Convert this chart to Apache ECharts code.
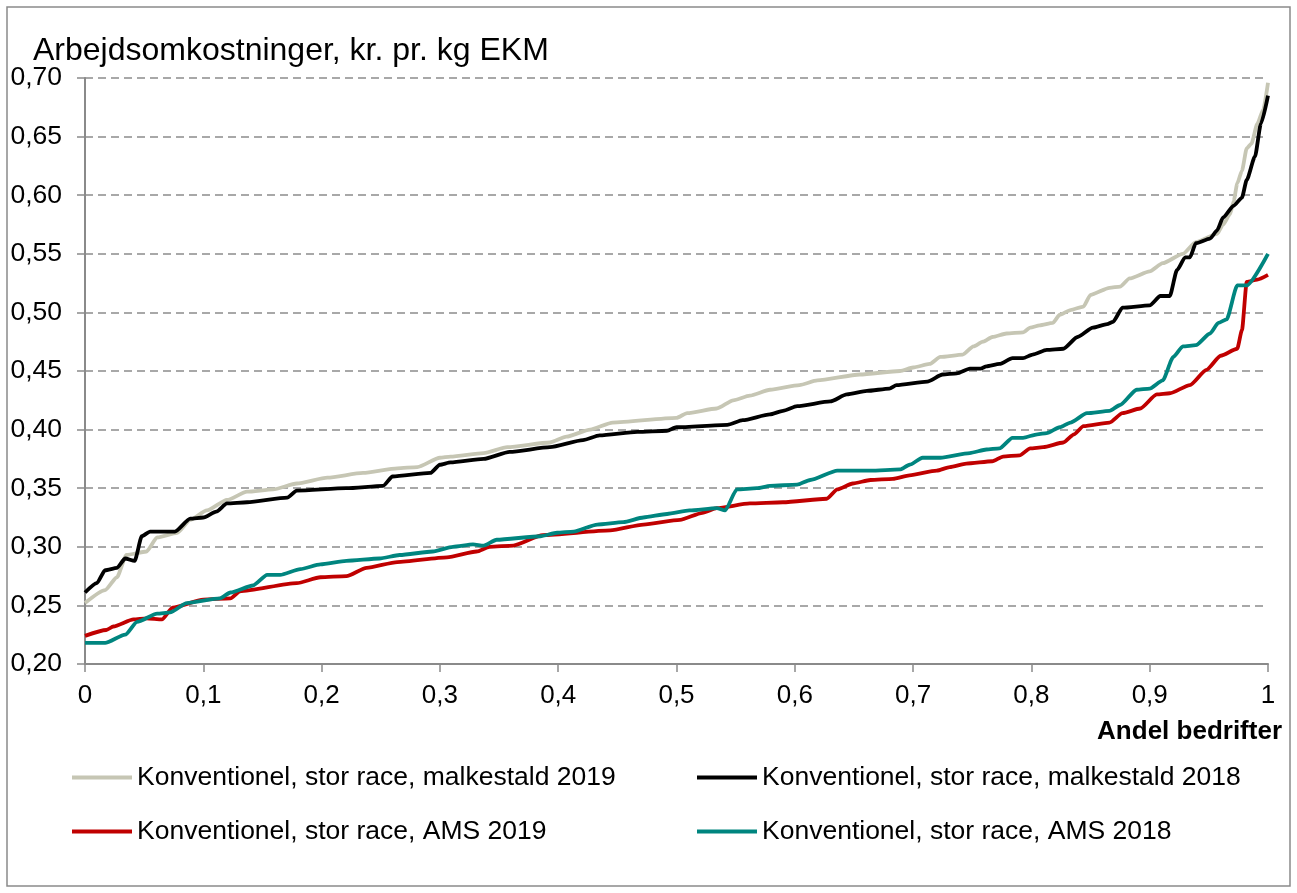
<!DOCTYPE html>
<html>
<head>
<meta charset="utf-8">
<script src="https://cdn.jsdelivr.net/npm/echarts@6/dist/echarts.min.js"></script>
<style>
  html, body { margin: 0; padding: 0; background: #fff; }
  #chart { width: 1297px; height: 893px; }
</style>
</head>
<body>
<div id="chart"></div>
<script>
// tick labels
var xTickLabels = ['0', '0,1', '0,2', '0,3', '0,4', '0,5', '0,6', '0,7', '0,8', '0,9', '1'];
var yTickLabels = ['0,20', '0,25', '0,30', '0,35', '0,40', '0,45', '0,50', '0,55', '0,60', '0,65', '0,70'];

var seriesNames = [
  'Konventionel, stor race, malkestald 2019',
  'Konventionel, stor race, malkestald 2018',
  'Konventionel, stor race, AMS 2019',
  'Konventionel, stor race, AMS 2018'
];

// malkestald 2019 (grå)
var malk2019X = [0, 0.017, 0.027, 0.035, 0.052, 0.061, 0.078, 0.089, 0.103, 0.12, 0.137, 0.159, 0.179, 0.205, 0.235, 0.264, 0.281, 0.3, 0.309, 0.337, 0.357, 0.393, 0.407, 0.427, 0.446, 0.5, 0.509, 0.534, 0.548, 0.562, 0.579, 0.604, 0.619, 0.655, 0.689, 0.7, 0.714, 0.723, 0.742, 0.751, 0.759, 0.767, 0.779, 0.793, 0.799, 0.807, 0.818, 0.824, 0.833, 0.844, 0.85, 0.866, 0.875, 0.883, 0.9, 0.911, 0.928, 0.939, 0.957, 0.962, 0.968, 0.971, 0.974, 0.978, 0.982, 0.986, 0.991, 0.996, 1];
var malk2019Y = [0.252, 0.263, 0.274, 0.293, 0.296, 0.308, 0.312, 0.323, 0.331, 0.340, 0.347, 0.349, 0.354, 0.359, 0.363, 0.367, 0.368, 0.376, 0.377, 0.380, 0.385, 0.389, 0.394, 0.400, 0.406, 0.410, 0.414, 0.418, 0.425, 0.429, 0.434, 0.438, 0.442, 0.447, 0.450, 0.453, 0.456, 0.462, 0.464, 0.471, 0.475, 0.479, 0.482, 0.483, 0.487, 0.489, 0.491, 0.498, 0.502, 0.505, 0.515, 0.521, 0.522, 0.529, 0.535, 0.542, 0.550, 0.560, 0.567, 0.575, 0.584, 0.595, 0.610, 0.621, 0.640, 0.644, 0.661, 0.673, 0.696];

// malkestald 2018 (sort)
var malk2018X = [0, 0.01, 0.017, 0.027, 0.034, 0.042, 0.048, 0.055, 0.076, 0.089, 0.1, 0.111, 0.12, 0.137, 0.171, 0.179, 0.221, 0.252, 0.26, 0.292, 0.3, 0.309, 0.337, 0.359, 0.393, 0.421, 0.435, 0.467, 0.492, 0.5, 0.543, 0.556, 0.579, 0.59, 0.602, 0.63, 0.644, 0.661, 0.68, 0.686, 0.712, 0.725, 0.737, 0.748, 0.757, 0.762, 0.773, 0.784, 0.793, 0.801, 0.813, 0.827, 0.839, 0.852, 0.864, 0.869, 0.877, 0.9, 0.909, 0.917, 0.923, 0.93, 0.934, 0.939, 0.951, 0.957, 0.962, 0.971, 0.978, 0.982, 0.989, 0.994, 1];
var malk2018Y = [0.261, 0.269, 0.280, 0.282, 0.290, 0.288, 0.309, 0.313, 0.313, 0.324, 0.325, 0.330, 0.337, 0.338, 0.342, 0.348, 0.350, 0.352, 0.360, 0.363, 0.370, 0.372, 0.375, 0.381, 0.385, 0.391, 0.395, 0.398, 0.399, 0.402, 0.404, 0.408, 0.413, 0.416, 0.420, 0.424, 0.430, 0.433, 0.435, 0.438, 0.441, 0.447, 0.448, 0.452, 0.452, 0.454, 0.456, 0.461, 0.461, 0.464, 0.468, 0.469, 0.479, 0.487, 0.490, 0.492, 0.504, 0.506, 0.514, 0.514, 0.536, 0.547, 0.547, 0.559, 0.563, 0.570, 0.581, 0.591, 0.598, 0.613, 0.633, 0.661, 0.685];

// AMS 2019 (rød)
var ams2019X = [0, 0.018, 0.024, 0.041, 0.052, 0.065, 0.074, 0.1, 0.123, 0.131, 0.179, 0.199, 0.221, 0.238, 0.264, 0.306, 0.331, 0.342, 0.362, 0.387, 0.444, 0.472, 0.503, 0.522, 0.534, 0.562, 0.59, 0.627, 0.636, 0.649, 0.664, 0.683, 0.697, 0.72, 0.731, 0.745, 0.767, 0.776, 0.79, 0.799, 0.81, 0.827, 0.836, 0.844, 0.866, 0.877, 0.892, 0.906, 0.917, 0.934, 0.948, 0.96, 0.974, 0.978, 0.982, 0.991, 1];
var ams2019Y = [0.224, 0.229, 0.232, 0.238, 0.239, 0.238, 0.248, 0.255, 0.256, 0.262, 0.269, 0.274, 0.275, 0.282, 0.287, 0.291, 0.296, 0.300, 0.301, 0.310, 0.314, 0.319, 0.323, 0.329, 0.333, 0.337, 0.338, 0.341, 0.349, 0.354, 0.357, 0.358, 0.361, 0.365, 0.368, 0.371, 0.373, 0.377, 0.378, 0.384, 0.385, 0.389, 0.396, 0.403, 0.406, 0.414, 0.418, 0.430, 0.431, 0.438, 0.451, 0.463, 0.469, 0.485, 0.526, 0.528, 0.532];

// AMS 2018 (turkis)
var ams2018X = [0, 0.017, 0.034, 0.044, 0.061, 0.072, 0.086, 0.114, 0.123, 0.142, 0.154, 0.165, 0.182, 0.199, 0.221, 0.249, 0.266, 0.294, 0.311, 0.328, 0.337, 0.348, 0.385, 0.399, 0.413, 0.433, 0.455, 0.472, 0.492, 0.511, 0.534, 0.541, 0.551, 0.568, 0.579, 0.602, 0.613, 0.636, 0.664, 0.689, 0.697, 0.708, 0.723, 0.748, 0.762, 0.773, 0.784, 0.793, 0.805, 0.813, 0.824, 0.833, 0.847, 0.866, 0.875, 0.889, 0.9, 0.911, 0.92, 0.928, 0.939, 0.951, 0.958, 0.965, 0.974, 0.982, 1];
var ams2018Y = [0.218, 0.218, 0.225, 0.236, 0.243, 0.244, 0.252, 0.256, 0.261, 0.267, 0.276, 0.276, 0.281, 0.285, 0.288, 0.290, 0.293, 0.296, 0.300, 0.302, 0.301, 0.306, 0.309, 0.312, 0.313, 0.319, 0.321, 0.325, 0.328, 0.331, 0.333, 0.331, 0.349, 0.350, 0.352, 0.353, 0.357, 0.365, 0.365, 0.366, 0.370, 0.376, 0.376, 0.380, 0.383, 0.384, 0.393, 0.393, 0.396, 0.397, 0.402, 0.406, 0.414, 0.416, 0.421, 0.434, 0.435, 0.442, 0.462, 0.471, 0.472, 0.482, 0.491, 0.494, 0.523, 0.523, 0.550];

function zip(xs, ys) {
  return xs.map(function (x, i) { return [x, ys[i]]; });
}

var font = 'Liberation Sans, Arial, sans-serif';
var colors = ['#C6C6B4', '#000000', '#C00000', '#00857F'];

var chart = echarts.init(document.getElementById('chart'));

function lineSeries(idx, data) {
  return {
    name: seriesNames[idx],
    type: 'line',
    data: data,
    showSymbol: false,
    smooth: 0.2,
    smoothMonotone: 'x',
    lineStyle: { color: colors[idx], width: 3.8 },
    itemStyle: { color: colors[idx] },
    z: 2 + idx
  };
}

var legendBase = {
  orient: 'vertical',
  top: 764,
  padding: 0,
  itemWidth: 60,
  itemHeight: 4,
  itemGap: 27,
  icon: 'rect',
  textStyle: { fontSize: 26.5, color: '#000', fontFamily: font }
};

chart.setOption({
  backgroundColor: '#fff',
  animation: false,
  title: [
    {
      text: 'Arbejdsomkostninger, kr. pr. kg EKM',
      left: 33, top: 35, padding: 0,
      textStyle: { fontSize: 32, fontWeight: 'normal', color: '#000', fontFamily: font }
    },
    {
      text: 'Andel bedrifter',
      right: 15, top: 719, padding: 0,
      textStyle: { fontSize: 26, fontWeight: 'bold', color: '#000', fontFamily: font }
    }
  ],
  legend: [
    Object.assign({}, legendBase, { left: 72, data: [seriesNames[0], seriesNames[2]] }),
    Object.assign({}, legendBase, { left: 697, data: [seriesNames[1], seriesNames[3]] })
  ],
  grid: { left: 85, right: 29, top: 78, bottom: 229, outerBoundsMode: 'none' },
  xAxis: {
    type: 'value',
    min: 0, max: 1, interval: 0.1,
    axisLine: { show: true, lineStyle: { color: '#8a8a8a', width: 2 } },
    axisTick: { show: true, length: 8, lineStyle: { color: '#8a8a8a', width: 1.5 } },
    splitLine: { show: false },
    axisLabel: {
      margin: 19, fontSize: 26, color: '#000', fontFamily: font,
      formatter: function (v) { return xTickLabels[Math.round(v * 10)]; }
    }
  },
  yAxis: {
    type: 'value',
    min: 0.2, max: 0.7, interval: 0.05,
    axisLine: { show: true, lineStyle: { color: '#8a8a8a', width: 2 } },
    axisTick: { show: true, length: 8, lineStyle: { color: '#8a8a8a', width: 1.5 } },
    splitLine: { show: true, lineStyle: { color: '#8c8c8c', width: 1.5, type: [8, 5] } },
    axisLabel: {
      margin: 23, fontSize: 26.5, color: '#000', fontFamily: font,
      formatter: function (v) { return yTickLabels[Math.round((v - 0.2) / 0.05)]; }
    }
  },
  graphic: [{
    type: 'rect',
    shape: { x: 7, y: 7, width: 1283, height: 879 },
    style: { fill: 'none', stroke: '#8a8a8a', lineWidth: 1.5 },
    silent: true
  }],
  series: [
    lineSeries(0, zip(malk2019X, malk2019Y)),
    lineSeries(1, zip(malk2018X, malk2018Y)),
    lineSeries(2, zip(ams2019X, ams2019Y)),
    lineSeries(3, zip(ams2018X, ams2018Y))
  ]
});
</script>
</body>
</html>
